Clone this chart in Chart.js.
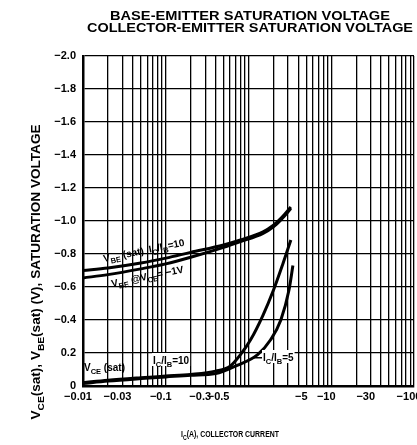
<!DOCTYPE html>
<html lang="en">
<head>
  <meta charset="utf-8">
  <title>Saturation Voltage</title>
  <script src="https://cdn.jsdelivr.net/npm/chart.js@4.4.0/dist/chart.umd.min.js"></script>
  <style>
    html, body { margin: 0; padding: 0; background: #fff; }
    #wrap { width: 417px; height: 445px; }
  </style>
</head>
<body>
  <div id="wrap"><canvas id="myChart" width="417" height="445"></canvas></div>

  <script>
    // collector current |Ic| (A) and voltage magnitude (V)
    const vbeSatI = [0.01, 0.02, 0.05, 0.1, 0.2, 0.5, 0.8, 1.5, 2.0, 2.5, 3.25];
    const vbeSatV = [0.70, 0.715, 0.745, 0.775, 0.81, 0.855, 0.885, 0.935, 0.975, 1.02, 1.085];

    const vbeOnI = [0.01, 0.02, 0.05, 0.1, 0.2, 0.5, 0.8, 1.5, 2.0, 2.5, 3.25];
    const vbeOnV = [0.655, 0.675, 0.71, 0.74, 0.78, 0.84, 0.875, 0.925, 0.965, 1.01, 1.075];

    const vceSat10I = [0.01, 0.02, 0.05, 0.1, 0.2, 0.4, 0.6, 0.8, 1.06, 1.5, 2.0, 2.6, 3.25];
    const vceSat10V = [0.02, 0.035, 0.05, 0.06, 0.07, 0.09, 0.12, 0.19, 0.28, 0.43, 0.58, 0.74, 0.885];

    const vceSat5I = [0.01, 0.02, 0.05, 0.1, 0.2, 0.4, 0.73, 1.29, 1.85, 2.46, 3.08, 3.44];
    const vceSat5V = [0.015, 0.03, 0.045, 0.055, 0.065, 0.075, 0.125, 0.19, 0.28, 0.40, 0.58, 0.73];

    // grid / tick values
    const xGrid = [];
    [0.01, 0.1, 1, 10].forEach(d => { for (let k = 1; k < 10; k++) xGrid.push(+(d * k).toPrecision(2)); });
    xGrid.push(100);
    const xTickLabels = { 0.01: '−0.01', 0.03: '−0.03', 0.1: '−0.1', 0.3: '−0.3', 0.5: '−0.5', 5: '−5', 10: '−10', 30: '−30', 100: '−100' };

    const yTickValues = [0, 0.2, 0.4, 0.6, 0.8, 1.0, 1.2, 1.4, 1.6, 1.8, 2.0];
    const yTickLabels = ['0', '0.2', '−0.4', '−0.6', '−0.8', '−1.0', '−1.2', '−1.4', '−1.6', '−1.8', '−2.0'];

    const pts = (xs, ys) => xs.map((x, i) => ({ x: x, y: ys[i] }));

    const lineStyle = {
      borderColor: '#000',
      borderWidth: 3,
      pointRadius: 0,
      fill: false,
      cubicInterpolationMode: 'monotone'
    };

    const data = {
      datasets: [
        Object.assign({ label: 'VBE(sat) Ic/Ib=10', data: pts(vbeSatI, vbeSatV) }, lineStyle),
        Object.assign({ label: 'VBE @ VCE=-1V', data: pts(vbeOnI, vbeOnV) }, lineStyle),
        Object.assign({ label: 'VCE(sat) Ic/Ib=10', data: pts(vceSat10I, vceSat10V) }, lineStyle),
        Object.assign({ label: 'VCE(sat) Ic/Ib=5', data: pts(vceSat5I, vceSat5V) }, lineStyle)
      ]
    };

    const FONT = '"Liberation Sans", Arial, sans-serif';

    // draw text runs, each run [text, isSubscript]
    function drawRuns(ctx, runs, x, y, size) {
      let cx = x;
      runs.forEach(r => {
        const sub = r[1];
        ctx.font = 'bold ' + (sub ? size * 0.75 : size) + 'px ' + FONT;
        ctx.fillText(r[0], cx, sub ? y + size * 0.3 : y);
        cx += ctx.measureText(r[0]).width;
      });
      return cx - x;
    }
    function runsWidth(ctx, runs, size) {
      let w = 0;
      runs.forEach(r => {
        ctx.font = 'bold ' + (r[1] ? size * 0.75 : size) + 'px ' + FONT;
        w += ctx.measureText(r[0]).width;
      });
      return w;
    }
    // runs centred on (0,0) of current transform, squeezed to a given width
    function drawRunsFit(ctx, runs, width, size) {
      const w = runsWidth(ctx, runs, size);
      ctx.save();
      ctx.scale(width / w, 1);
      drawRuns(ctx, runs, -w / 2, 0, size);
      ctx.restore();
    }
    function fitText(ctx, text, cx, y, width, size) {
      ctx.save();
      ctx.translate(cx, y);
      drawRunsFit(ctx, [[text, false]], width, size);
      ctx.restore();
    }

    const labelsPlugin = {
      id: 'labels',
      afterDraw(chart) {
        const ctx = chart.ctx;
        ctx.save();
        ctx.fillStyle = '#000';
        ctx.textBaseline = 'alphabetic';

        // titles
        fitText(ctx, 'BASE-EMITTER SATURATION VOLTAGE', 250, 20, 280, 13);
        fitText(ctx, 'COLLECTOR-EMITTER SATURATION VOLTAGE', 250, 32, 326, 13);

        // x axis title
        ctx.save();
        ctx.translate(230, 437);
        drawRunsFit(ctx, [['I', false], ['C', true], ['(A), COLLECTOR CURRENT', false]], 98, 9.5);
        ctx.restore();

        // y axis title
        ctx.save();
        ctx.translate(40, 272);
        ctx.rotate(-Math.PI / 2);
        drawRunsFit(ctx, [['V', false], ['CE', true], ['(sat), V', false], ['BE', true], ['(sat) (V), SATURATION VOLTAGE', false]], 295, 12);
        ctx.restore();

        // curve annotations
        ctx.save();
        ctx.translate(104, 262);
        ctx.rotate(-0.2);
        drawRuns(ctx, [['V', false], ['BE', true], [' (sat)  I', false], ['C', true], ['/I', false], ['B', true], ['=10', false]], 0, 0, 10);
        ctx.restore();

        ctx.save();
        ctx.translate(112, 287);
        ctx.rotate(-0.2);
        drawRuns(ctx, [['V', false], ['BE', true], [' @V', false], ['CE', true], ['= −1V', false]], 0, 0, 10);
        ctx.restore();

        drawRuns(ctx, [['V', false], ['CE', true], [' (sat)', false]], 84, 371, 10);

        const r10 = [['I', false], ['C', true], ['/I', false], ['B', true], ['=10', false]];
        ctx.fillStyle = '#fff';
        ctx.fillRect(152, 353, runsWidth(ctx, r10, 10) + 2, 13);
        ctx.fillStyle = '#000';
        drawRuns(ctx, r10, 153, 364, 10);

        const r5 = [['I', false], ['C', true], ['/I', false], ['B', true], ['=5', false]];
        ctx.fillStyle = '#fff';
        ctx.fillRect(262, 350, runsWidth(ctx, r5, 10) + 2, 13);
        ctx.fillStyle = '#000';
        ctx.fillRect(254, 357, 8, 1.5);
        drawRuns(ctx, r5, 263, 361, 10);

        ctx.restore();
      }
    };

    const config = {
      type: 'line',
      data: data,
      options: {
        responsive: false,
        animation: false,
        layout: { padding: { left: 0, right: 3, top: 56, bottom: 37 } },
        plugins: {
          legend: { display: false },
          tooltip: { enabled: false }
        },
        scales: {
          x: {
            type: 'logarithmic',
            min: 0.01,
            max: 100,
            afterBuildTicks: scale => { scale.ticks = xGrid.map(v => ({ value: v })); },
            afterFit: scale => { scale.height = 22; scale.paddingLeft = 0; scale.paddingRight = 0; },
            grid: { color: '#000', lineWidth: 1.3, drawTicks: false },
            border: { color: '#000', width: 2.5 },
            ticks: {
              autoSkip: false,
              maxRotation: 0,
              padding: 4,
              labelOffset: -5,
              color: '#000',
              font: { family: FONT, size: 11, weight: 'bold' },
              callback: value => xTickLabels[+value.toPrecision(2)] || ''
            }
          },
          y: {
            type: 'linear',
            min: 0,
            max: 2,
            afterBuildTicks: scale => { scale.ticks = yTickValues.map(v => ({ value: v })); },
            afterFit: scale => { scale.width = 83; scale.paddingTop = 0; scale.paddingBottom = 0; },
            grid: { color: '#000', lineWidth: 1.3, drawTicks: false },
            border: { color: '#000', width: 2.5 },
            ticks: {
              padding: 7,
              color: '#000',
              font: { family: FONT, size: 11, weight: 'bold' },
              callback: (value, index) => yTickLabels[index]
            }
          }
        }
      },
      plugins: [labelsPlugin]
    };

    const myChart = new Chart(document.getElementById('myChart'), config);
  </script>
</body>
</html>
